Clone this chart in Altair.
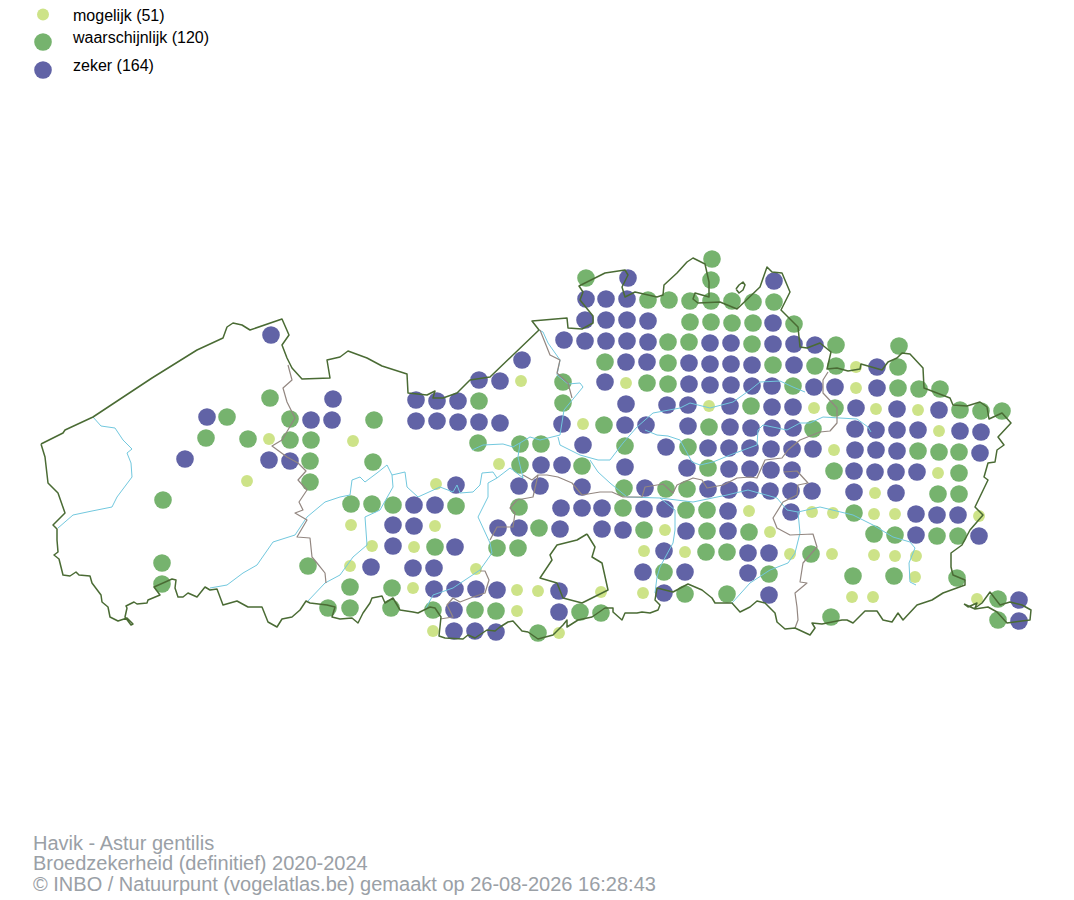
import altair as alt
import pandas as pd

zeker = [(271,335),(628,278),(774,281),(586,299),(606,299),(627,299),
(585,320),(606,320),(627,320),(648,321),(773,323),
(564,340),(585,341),(606,341),(627,341),(648,342),(710,343),(731,343),(773,344),(794,344),(815,345),
(522,360),(626,362),(647,362),(689,363),(710,364),(731,364),(752,365),(794,365),(877,367),
(479,380),(500,381),(605,382),(689,384),(710,385),(731,385),(752,386),(772,386),(814,387),(835,387),(877,388),
(333,399),(416,400),(437,401),(458,401),(626,404),(667,405),(688,405),(730,406),(772,407),(793,407),(856,408),(897,409),(939,410),
(207,417),(311,420),(332,420),(416,421),(437,421),(458,422),(479,422),(500,423),(562,424),(625,425),(646,425),(688,426),(730,427),(751,428),(772,428),(793,428),(855,429),(876,430),(897,430),(918,430),(960,431),(981,432),
(583,445),(666,447),(708,448),(729,448),(750,448),(771,449),(792,449),(813,449),(855,450),(876,450),(897,451),(980,453),
(185,459),(269,460),(290,461),(541,465),(562,465),(625,467),(687,468),(729,469),(750,469),(771,470),(792,470),(854,471),(875,472),(896,472),(917,472),
(456,485),(519,486),(540,486),(582,487),(645,488),(708,489),(729,490),(750,490),(770,491),(791,491),(812,491),(854,492),(896,493),
(414,505),(435,505),(561,508),(582,508),(602,508),(644,509),(665,509),(728,511),(791,512),(916,514),(937,515),(958,515),
(393,525),(414,526),(498,528),(519,528),(560,529),(602,529),(623,530),(686,531),(728,531),(916,535),(979,536),
(393,546),(455,547),(664,551),(748,553),(769,553),
(371,567),(413,568),(434,568),(643,572),(685,572),(748,573),
(434,589),(455,589),(476,589),(497,590),(559,591),(664,593),(769,595),(1019,600),
(454,610),(559,612),(1019,621),(454,631),(475,631),(496,632)]

waarschijnlijk = [(712,259),(711,280),(586,278),
(648,300),(669,300),(690,301),(711,301),(732,301),(753,302),(774,302),
(690,322),(711,322),(732,323),(753,323),(794,324),
(668,342),(689,342),(752,344),(836,345),(899,346),
(605,362),(668,363),(773,365),(815,366),(836,366),(898,367),
(563,382),(647,383),(668,384),(793,386),(898,388),(919,389),(940,389),
(270,398),(479,401),(563,403),(751,406),(835,408),(960,410),(981,411),(1002,411),
(227,417),(290,419),(374,420),(604,425),(709,427),(813,429),
(206,438),(248,439),(290,440),(311,440),(478,443),(520,444),(541,444),(625,446),(688,447),(918,451),(939,452),(959,452),
(310,461),(373,462),(520,465),(582,466),(708,468),(834,471),(959,473),
(310,482),(624,488),(666,489),(687,489),(938,494),(959,494),
(163,500),(351,504),(372,504),(393,505),(456,506),(519,507),(623,508),(686,510),(707,510),(854,513),
(539,528),(644,530),(707,531),(749,532),(874,534),(895,535),(937,536),(958,536),
(435,547),(497,548),(518,548),(706,552),(727,552),(811,554),
(162,563),(308,566),(664,572),(769,574),(853,576),(894,576),(957,578),
(162,584),(350,587),(392,588),(685,594),(727,594),(998,599),
(328,608),(350,608),(391,608),(433,610),(475,610),(496,611),(580,612),(601,613),(831,617),(998,620),
(538,633)]

mogelijk = [(521,381),(626,383),(856,367),(856,388),(709,406),(814,408),(876,409),(918,410),(583,424),(939,431),
(269,439),(353,441),(834,450),(499,464),(938,473),(247,481),(436,484),(875,493),(749,511),(812,512),
(833,513),(874,514),(895,514),(979,516),(351,525),(435,526),(665,530),(770,532),(372,546),(414,547),
(644,551),(685,552),(790,554),(832,554),(874,555),(895,556),(916,556),(350,566),(476,569),(915,577),
(413,588),(517,590),(538,591),(601,592),(643,593),(852,597),(873,597),(977,599),(517,611),(433,631),(559,633)]

border_main = [(41,444),(63,433),(65,430),(93,417),(152,378),(197,350),(223,338),(227,327),(233,323),(242,325),(250,330),
(282,319),(289,335),(282,345),(287,358),(292,368),(302,379),(330,378),(327,360),(340,357),(348,351),(367,358),(382,366),
(407,374),(408,393),(427,395),(435,391),(433,398),(443,398),(457,393),(470,380),(490,377),(539,330),(532,321),(567,318),
(568,328),(582,329),(593,323),(593,316),(580,300),(583,292),(579,286),(605,273),(625,270),(628,275),(622,287),(625,297),
(635,292),(657,297),(663,295),(664,285),(677,273),(687,262),(693,258),(705,264),(709,282),(709,297),(695,293),(693,299),
(698,303),(720,302),(737,309),(760,287),(767,267),(772,272),(782,273),(790,292),(781,310),(798,327),(800,347),(807,348),
(820,343),(831,352),(827,369),(837,368),(848,371),(860,369),(861,364),(882,370),(888,362),(897,358),(902,353),(910,354),
(923,368),(924,388),(950,398),(953,405),(967,406),(980,402),(987,407),(989,419),(1002,413),(1011,423),(998,437),(1004,445),
(997,450),(995,462),(988,463),(984,477),(988,480),(975,507),(983,515),(970,530),(962,545),(951,553),(951,567),(953,575),
(965,580),(965,585),(943,593),(932,600),(917,605),(903,620),(898,613),(892,622),(883,620),(877,611),(865,611),(853,623),
(847,620),(842,620),(832,622),(822,624),(812,623),(815,628),(810,635),(795,628),(785,629),(777,622),(775,613),(765,603),
(757,601),(750,607),(740,612),(732,603),(715,603),(712,598),(702,590),(688,584),(673,592),(657,588),(655,600),(660,605),
(658,610),(650,613),(642,612),(637,613),(625,613),(622,620),(613,612),(613,608),(605,608),(592,617),(578,620),(567,627),
(567,620),(563,625),(560,628),(553,635),(538,639),(528,632),(522,631),(513,621),(508,622),(500,627),(495,631),(487,630),
(475,638),(468,635),(463,639),(445,638),(439,636),(441,617),(435,608),(430,607),(418,613),(413,612),(400,610),(393,598),
(385,603),(382,596),(372,598),(370,603),(363,613),(358,623),(352,618),(340,619),(332,617),(335,607),(327,605),(310,603),
(306,601),(300,610),(292,617),(282,619),(277,627),(268,622),(262,607),(248,607),(237,601),(223,605),(217,589),(210,590),
(205,587),(197,597),(188,593),(183,597),(178,597),(175,588),(176,580),(172,579),(154,587),(160,595),(148,600),(147,603),
(137,604),(134,602),(126,606),(127,608),(125,617),(131,625),(133,624),(127,618),(118,621),(110,617),(108,607),(102,602),
(101,595),(92,583),(90,576),(79,575),(76,572),(70,576),(63,575),(59,559),(54,555),(58,552),(57,540),(57,529),(53,525),
(65,513),(58,493),(48,483),(45,457),(41,444)]
border_hole = [(587,534),(595,547),(592,557),(602,563),(608,590),(582,603),(563,598),(557,583),(540,578),(552,560),(550,555),(557,545),(577,540),(587,534)]
border_voeren = [(964,604),(968,607),(977,603),(975,608),(982,603),(990,592),(1000,605),(1010,602),(1022,605),(1031,610),(1030,620),(1007,623),(997,612),(988,607),(975,609),(964,604)]
border_baarle = [(736,289),(739,285),(743,282),(745,285),(743,290),(739,293),(736,289)]

prov_1 = [(288,365),(292,380),(283,388),(287,402),(295,418),(282,440),(272,446),(287,457),(298,463),(306,471),(298,480),(307,490),(299,502),(303,510),(295,513),(307,520),(297,537),(310,538),(312,557),(317,563),(325,573),(326,583)]
prov_2 = [(480,571),(485,571),(489,580),(485,593),(473,597),(460,602),(453,598),(447,605),(453,617),(440,619)]
prov_3 = [(490,540),(497,527),(513,527),(515,513),(510,508),(517,500),(533,497),(538,475),(547,475),(558,477),(572,483),(582,495),(600,492),(612,492),(623,497),(642,497),(645,487),(663,484),(673,493),(677,485),(693,478),(702,480),(707,488),(723,485),(737,478),(750,477),(757,478),(765,460),(782,458),(788,450),(800,440),(820,432),(830,431),(837,423),(837,408),(823,393),(823,380),(828,372)]
prov_4 = [(523,475),(532,480),(538,475)]
prov_5 = [(540,330),(550,355),(560,360),(557,373),(568,383),(572,398)]
prov_6 = [(784,472),(797,471),(808,483),(798,485),(797,495),(783,502),(773,518),(777,528),(790,535),(813,534),(817,547),(803,563),(800,582),(807,583),(795,593),(797,607),(798,620),(795,628)]

river_1 = [(93,417),(101,426),(115,428),(123,440),(132,449),(127,453),(131,463),(132,477),(117,497),(112,507),(92,511),(73,515),(58,528)]
river_2 = [(210,588),(227,585),(243,573),(257,565),(273,542),(295,535),(307,517),(325,502),(340,497),(350,495),(352,480),(360,477),(365,482),(377,473),(387,465),(392,475),(405,472),(407,487),(418,497),(440,487),(453,492),(457,485),(460,493),(473,492),(480,485),(482,473),(493,472),(497,478),(488,483),(488,497),(478,517),(490,543),(492,553),(480,570),(453,588),(433,595),(425,610)]
river_3 = [(392,475),(393,487),(380,510),(365,517),(367,545),(353,557),(340,575),(325,583),(307,602)]
river_4 = [(497,478),(510,468),(513,470),(523,478),(518,457),(520,443)]
river_5 = [(472,450),(483,445),(503,444),(513,447),(530,437),(540,440),(560,435),(564,410),(583,387),(580,383),(568,384),(557,375),(560,360),(548,343),(543,332),(539,330)]
river_6 = [(558,437),(560,445),(580,455),(598,460),(610,460),(623,443),(637,427),(653,413),(680,408),(690,403),(710,408),(733,402),(750,390),(760,382),(780,381),(793,387),(805,392)]
river_7 = [(645,430),(657,435),(668,436),(680,440),(692,462),(700,465),(713,462),(730,455),(757,445),(758,430),(763,425),(787,430),(800,423),(810,423),(823,417),(857,419),(868,427),(871,432)]
river_8 = [(590,460),(598,472),(610,483),(627,497),(660,498),(693,502),(727,495),(748,490),(777,498),(787,510),(798,512),(820,507),(853,515),(873,525),(893,537),(910,542),(915,548),(909,563),(910,582),(916,585)]
river_9 = [(660,498),(675,510),(675,530),(673,543),(660,567),(657,577),(655,593)]
river_10 = [(798,512),(800,533),(795,553),(788,563),(770,570),(750,583),(732,603)]

legend_labels = ["mogelijk (51)", "waarschijnlijk (120)", "zeker (164)"]
legend_x = [43, 43, 43]
legend_y = [14.5, 42, 70]
legend_text_x = [73, 73, 73]
legend_text_y = [15.5, 38, 66]

title_lines = ["Havik - Astur gentilis", "Broedzekerheid (definitief) 2020-2024",
               "© INBO / Natuurpunt (vogelatlas.be) gemaakt op 26-08-2026 16:28:43"]
title_x = [33, 33, 33]
title_y = [850, 870, 891]

W, H = 1058, 888
X = alt.X("x:Q", scale=alt.Scale(domain=[8, 8 + W], nice=False, zero=False), axis=None)
Y = alt.Y("y:Q", scale=alt.Scale(domain=[8 + H, 8], nice=False, zero=False), axis=None)


def points(pts, color, size):
    df = pd.DataFrame(pts, columns=["x", "y"])
    return alt.Chart(df).mark_circle(size=size, opacity=1, color=color).encode(x=X, y=Y)


def lines(paths, color, width):
    rows = []
    for i, p in enumerate(paths):
        for j, (x, y) in enumerate(p):
            rows.append({"id": i, "idx": j, "x": x, "y": y})
    return alt.Chart(pd.DataFrame(rows)).mark_line(color=color, strokeWidth=width, strokeJoin="round").encode(
        x=X, y=Y, detail="id:N", order="idx:Q")


def texts(xs, ys, labels, color, size, baseline="middle"):
    df = pd.DataFrame({"x": xs, "y": ys, "t": labels})
    return alt.Chart(df).mark_text(align="left", baseline=baseline, color=color, fontSize=size,
                                   font="Liberation Sans").encode(x=X, y=Y, text="t:N")


PURPLE, GREEN, LIGHT = "#6163a6", "#76b36e", "#cde388"
SMALL, BIG = 142, 310

chart = alt.layer(
    points(mogelijk, LIGHT, SMALL),
    points(waarschijnlijk, GREEN, BIG),
    points(zeker, PURPLE, BIG),
    lines([river_1, river_2, river_3, river_4, river_5, river_6, river_7, river_8, river_9, river_10], "#72c8de", 1),
    lines([prov_1, prov_2, prov_3, prov_4, prov_5, prov_6], "#938781", 1.2),
    lines([border_main, border_hole, border_voeren, border_baarle], "#4a6b34", 1.5),
    points([(legend_x[0], legend_y[0])], LIGHT, SMALL),
    points([(legend_x[1], legend_y[1])], GREEN, BIG),
    points([(legend_x[2], legend_y[2])], PURPLE, BIG),
    texts(legend_text_x, legend_text_y, legend_labels, "#000000", 16),
    texts(title_x, title_y, title_lines, "#9aa0a6", 20, "alphabetic"),
).properties(width=W, height=H, padding=0, autosize=alt.AutoSizeParams(type="none")).configure_view(stroke=None)

chart.save("out.html", embed_options={"renderer": "svg", "actions": False})
